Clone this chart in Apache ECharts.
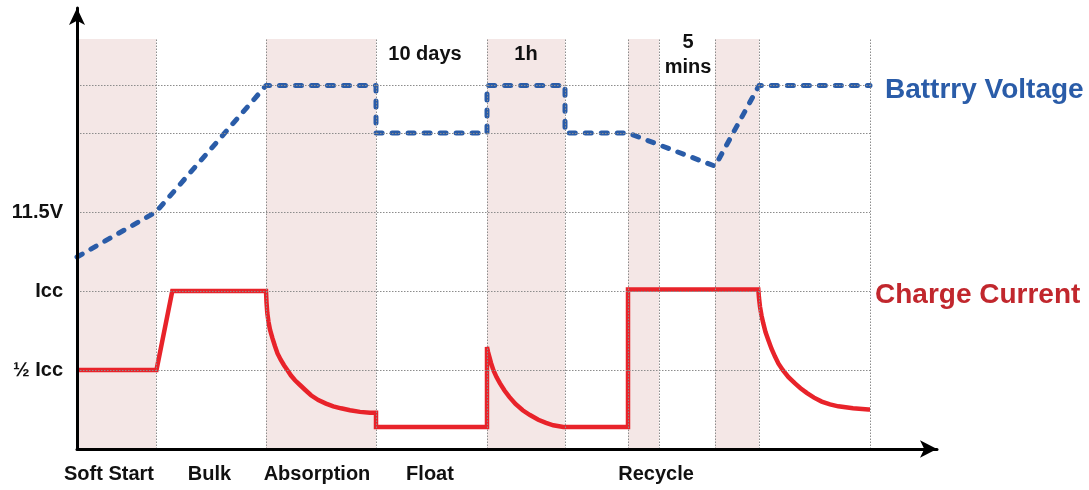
<!DOCTYPE html>
<html>
<head>
<meta charset="utf-8">
<script src="https://cdn.jsdelivr.net/npm/echarts@6/dist/echarts.min.js"></script>
<style>
  html, body { margin: 0; padding: 0; background: #ffffff; }
  #chart { width: 1089px; height: 490px; }
</style>
</head>
<body>
<div id="chart"></div>
<script>
// ---- Data ----
const phaseNames = ['Soft Start', 'Bulk', 'Absorption', 'Float', 'Recycle'];
const phaseLabelX = [3.2, 13.25, 24.0, 35.3, 57.9];

const yTickValues = [1, 2, 3];
const yTickLabels = ['½ Icc', 'Icc', '11.5V'];

const gridX = [7.9, 18.9, 29.9, 41.0, 48.8, 55.1, 58.2, 63.8, 68.2, 79.3];
const gridY = [1, 2, 3, 4, 4.6];
const gridTop = 5.19;
const gridRight = 79.3;

const bandStart = [0, 18.9, 41.0, 55.1, 63.8];
const bandEnd = [7.9, 29.9, 48.8, 58.2, 68.2];

const voltageX = [0, 7.9, 18.9, 29.9, 29.9, 41.0, 41.0, 48.8, 48.8, 55.1, 63.8, 68.2, 79.3];
const voltageY = [2.43, 3.0, 4.6, 4.6, 4.0, 4.0, 4.6, 4.6, 4.0, 4.0, 3.58, 4.6, 4.6];

const currentX = [0, 7.95, 9.53, 18.9,
  18.95, 19.03, 19.15, 19.3, 19.55, 19.8, 20.05, 20.37, 20.7, 21.03, 21.4, 21.8, 22.3, 22.8,
  23.4, 24.13, 24.9, 25.63, 26.4, 27.3, 28.3, 29.3, 29.9, 29.9,
  41.0, 41.0, 41.1, 41.23, 41.4, 41.63, 41.95, 42.3, 42.75, 43.23, 43.85, 44.57, 45.3,
  46.13, 46.9, 47.63, 48.63, 55.1, 55.1,
  68.13, 68.2, 68.3, 68.45, 68.63, 68.85, 69.13, 69.45, 69.8, 70.15, 70.57, 71.15, 71.8,
  72.35, 72.97, 73.7, 74.47, 75.3, 76.13, 77.6, 79.13, 79.3];
const currentY = [1.0, 1.0, 2.0, 2.0,
  1.86, 1.72, 1.61, 1.51, 1.40, 1.30, 1.21, 1.13, 1.06, 1.0, 0.93, 0.87, 0.81, 0.75,
  0.68, 0.62, 0.575, 0.54, 0.515, 0.49, 0.47, 0.46, 0.46, 0.28,
  0.28, 1.29, 1.23, 1.17, 1.09, 1.0, 0.91, 0.83, 0.74, 0.66, 0.57, 0.49, 0.43,
  0.37, 0.33, 0.30, 0.28, 0.28, 2.02,
  2.02, 1.91, 1.80, 1.69, 1.59, 1.48, 1.38, 1.27, 1.17, 1.08, 1.0, 0.91, 0.83,
  0.77, 0.71, 0.65, 0.60, 0.565, 0.54, 0.515, 0.50, 0.50];

const noteTexts = ['10 days', '1h', '5\nmins'];
const noteX = [34.8, 44.9, 61.1];
const noteY = [4.99, 4.99, 4.99];

const seriesNames = ['Battrry Voltage', 'Charge Current'];
const seriesLabelX = [80.8, 79.8];
const seriesLabelY = [4.54, 1.94];
const seriesLabelColors = ['#2a5ca8', '#c1272d'];

// ---- Build ----
const FONT = "'Liberation Sans', Arial, sans-serif";
const zip = (xs, ys) => xs.map((x, i) => [x, ys[i]]);
const gridLineStyle = { color: '#8c8c8c', width: 1, type: [1.5, 1.5] };

const markLines = [];
gridX.forEach(x => markLines.push([{ coord: [x, 0] }, { coord: [x, gridTop] }]));
gridY.forEach(y => markLines.push([{ coord: [0, y] }, { coord: [gridRight, y] }]));

const markAreas = bandStart.map((s, i) => [{ coord: [s, 0] }, { coord: [bandEnd[i], gridTop] }]);

const chart = echarts.init(document.getElementById('chart'), null, { renderer: 'canvas' });
chart.setOption({
  animation: false,
  backgroundColor: '#ffffff',
  grid: { left: 77, right: 152, top: 8, bottom: 41, containLabel: false },
  xAxis: {
    type: 'value', min: 0, max: 86, z: 10,
    splitLine: { show: false },
    axisTick: { show: false },
    axisLine: { show: true, onZero: false, lineStyle: { color: '#000', width: 3 },
      symbol: ['none', 'arrow'], symbolSize: [13, 17] },
    axisLabel: {
      customValues: phaseLabelX,
      margin: 15,
      color: '#111', fontSize: 20, fontWeight: 'bold', fontFamily: FONT,
      formatter: v => {
        const i = phaseLabelX.findIndex(p => Math.abs(p - v) < 0.01);
        return i >= 0 ? phaseNames[i] : '';
      }
    }
  },
  yAxis: {
    type: 'value', min: 0, max: 5.582, interval: 1, z: 10,
    splitLine: { show: false },
    axisTick: { show: false },
    axisLine: { show: true, onZero: false, lineStyle: { color: '#000', width: 3 },
      symbol: ['none', 'arrow'], symbolSize: [12, 17] },
    axisLabel: {
      margin: 14,
      showMaxLabel: false,
      color: '#111', fontSize: 20, fontWeight: 'bold', fontFamily: FONT,
      formatter: v => {
        const i = yTickValues.findIndex(p => Math.abs(p - v) < 0.01);
        return i >= 0 ? yTickLabels[i] : '';
      }
    }
  },
  series: [
    {
      type: 'line', name: 'bands', z: 1, silent: true,
      data: [], symbol: 'none',
      markArea: { silent: true, itemStyle: { color: '#f4e7e6' }, data: markAreas },
      markLine: { silent: true, symbol: ['none', 'none'], label: { show: false },
        lineStyle: gridLineStyle, data: markLines }
    },
    {
      type: 'line', name: seriesNames[0], z: 3,
      data: zip(voltageX, voltageY), symbol: 'none',
      lineStyle: { color: '#2a5ca8', width: 5, type: [6, 10], cap: 'round', join: 'round' }
    },
    {
      type: 'line', name: seriesNames[1], z: 4,
      data: zip(currentX, currentY), symbol: 'none',
      lineStyle: { color: '#e8232a', width: 4.5, join: 'miter', miterLimit: 3, cap: 'butt' }
    },
    {
      type: 'scatter', name: 'notes', z: 5, symbolSize: 0, silent: true,
      itemStyle: { opacity: 1, color: '#111' },
      data: noteX.map((x, i) => ({ value: [x, noteY[i]], name: noteTexts[i] })),
      label: { show: true, position: 'inside', formatter: p => p.name, opacity: 1,
        textBorderWidth: 0,
        color: '#111', fontSize: 20, fontWeight: 'bold', fontFamily: FONT, lineHeight: 25,
        align: 'center', verticalAlign: 'middle' }
    },
    {
      type: 'scatter', name: 'serieslabels', z: 5, symbolSize: 0, silent: true,
      itemStyle: { opacity: 1 },
      data: seriesLabelX.map((x, i) => ({ value: [x, seriesLabelY[i]], name: seriesNames[i],
        itemStyle: { color: seriesLabelColors[i] },
        label: { color: seriesLabelColors[i] } })),
      label: { show: true, position: 'right', distance: 0, formatter: p => p.name, opacity: 1,
        textBorderWidth: 0,
        fontSize: 28, fontWeight: 'bold', fontFamily: FONT }
    }
  ]
});
</script>
</body>
</html>
